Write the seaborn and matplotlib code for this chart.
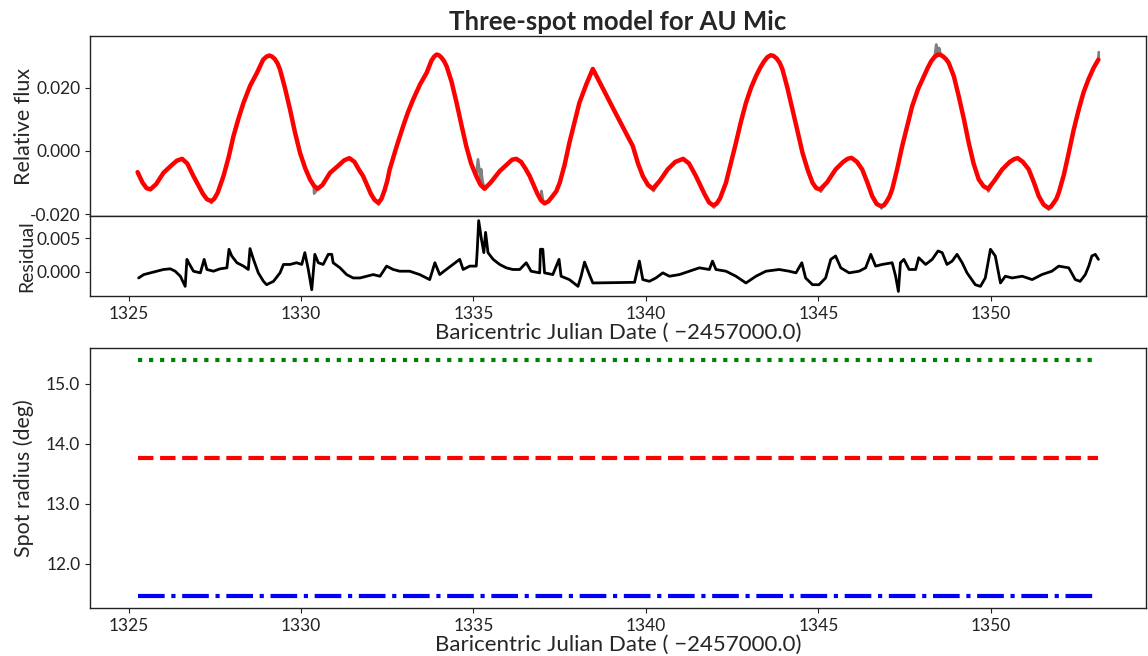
import numpy as np
import pandas as pd
import matplotlib
matplotlib.use("Agg")
import matplotlib.pyplot as plt
import seaborn as sns

# ---------------- data ----------------
model_time = [
    1325.26, 1325.40, 1325.52, 1325.63, 1325.80, 1326.01, 1326.25, 1326.40, 1326.55, 1326.70,
    1326.88, 1327.05, 1327.15, 1327.27, 1327.39, 1327.48, 1327.58, 1327.75, 1327.90, 1328.04,
    1328.18, 1328.33, 1328.52, 1328.72, 1328.90, 1329.00, 1329.08, 1329.16, 1329.24, 1329.32,
    1329.39, 1329.53, 1329.68, 1329.82, 1329.97, 1330.12, 1330.26, 1330.37, 1330.48, 1330.62,
    1330.84, 1331.10, 1331.25, 1331.40, 1331.55, 1331.68, 1331.80, 1332.02, 1332.13, 1332.24,
    1332.33, 1332.42, 1332.50, 1332.57, 1332.76, 1332.96, 1333.10, 1333.25, 1333.45, 1333.64,
    1333.78, 1333.86, 1333.93, 1334.00, 1334.07, 1334.15, 1334.22, 1334.36, 1334.51, 1334.65,
    1334.79, 1334.93, 1335.08, 1335.20, 1335.32, 1335.50, 1335.76, 1336.00, 1336.12, 1336.24,
    1336.38, 1336.50, 1336.63, 1336.85, 1336.96, 1337.06, 1337.17, 1337.28, 1337.40, 1337.50,
    1337.64, 1337.78, 1337.93, 1338.07, 1338.27, 1338.46, 1339.09, 1339.62, 1339.77, 1339.91,
    1340.06, 1340.20, 1340.40, 1340.63, 1340.85, 1341.08, 1341.25, 1341.45, 1341.58, 1341.70,
    1341.83, 1341.95, 1342.05, 1342.15, 1342.32, 1342.46, 1342.61, 1342.75, 1342.90, 1343.05,
    1343.19, 1343.31, 1343.42, 1343.52, 1343.62, 1343.70, 1343.79, 1343.88, 1343.96, 1344.10,
    1344.25, 1344.40, 1344.54, 1344.69, 1344.83, 1344.94, 1345.05, 1345.25, 1345.50, 1345.72,
    1345.85, 1345.96, 1346.12, 1346.27, 1346.42, 1346.56, 1346.69, 1346.81, 1346.90, 1346.98,
    1347.06, 1347.14, 1347.28, 1347.43, 1347.58, 1347.72, 1347.89, 1348.06, 1348.17, 1348.27,
    1348.37, 1348.47, 1348.55, 1348.62, 1348.70, 1348.78, 1348.93, 1349.07, 1349.22, 1349.36,
    1349.50, 1349.65, 1349.79, 1349.92, 1350.10, 1350.33, 1350.55, 1350.68, 1350.78, 1350.93,
    1351.10, 1351.25, 1351.39, 1351.53, 1351.66, 1351.74, 1351.82, 1351.90, 1351.97, 1352.12,
    1352.26, 1352.40, 1352.55, 1352.69, 1352.83, 1352.98, 1353.12]
model_flux = [
    -0.00673, -0.01000, -0.01180, -0.01219, -0.01050, -0.00695, -0.00450, -0.00310, -0.00253, -0.00400,
    -0.00799, -0.01150, -0.01350, -0.01530, -0.01588, -0.01520, -0.01330, -0.00799, -0.00200, 0.00464,
    0.01000, 0.01516, 0.02050, 0.02463, 0.02880, 0.02980, 0.03012, 0.02980, 0.02900, 0.02760,
    0.02570, 0.02000, 0.01307, 0.00600, -0.00063, -0.00550, -0.00903, -0.01100, -0.01200, -0.01080,
    -0.00695, -0.00450, -0.00300, -0.00231, -0.00350, -0.00600, -0.00799, -0.01350, -0.01550, -0.01642,
    -0.01520, -0.01250, -0.00950, -0.00587, 0.00100, 0.00780, 0.01220, 0.01623, 0.02100, 0.02463,
    0.02850, 0.02980, 0.03044, 0.03020, 0.02950, 0.02830, 0.02674, 0.02200, 0.01516, 0.00820,
    0.00148, -0.00400, -0.00799, -0.01070, -0.01200, -0.01000, -0.00641, -0.00400, -0.00280, -0.00253,
    -0.00350, -0.00550, -0.00799, -0.01350, -0.01570, -0.01661, -0.01600, -0.01450, -0.01280, -0.01010,
    -0.00450, 0.00253, 0.00900, 0.01516, 0.02100, 0.02589, 0.01254, 0.00148, -0.00400, -0.00799,
    -0.01080, -0.01200, -0.00950, -0.00587, -0.00350, -0.00253, -0.00400, -0.00799, -0.01100, -0.01370,
    -0.01630, -0.01724, -0.01670, -0.01500, -0.01010, -0.00400, 0.00253, 0.00900, 0.01516, 0.02000,
    0.02359, 0.02620, 0.02820, 0.02960, 0.03022, 0.03000, 0.02920, 0.02780, 0.02570, 0.02000,
    0.01307, 0.00600, -0.00063, -0.00600, -0.01010, -0.01180, -0.01219, -0.01000, -0.00587, -0.00350,
    -0.00250, -0.00221, -0.00350, -0.00587, -0.01000, -0.01430, -0.01680, -0.01746, -0.01720, -0.01600,
    -0.01450, -0.01219, -0.00600, 0.00148, 0.00800, 0.01411, 0.01950, 0.02359, 0.02620, 0.02830,
    0.02970, 0.03044, 0.03030, 0.02980, 0.02900, 0.02779, 0.02350, 0.01727, 0.01000, 0.00253,
    -0.00400, -0.00903, -0.01120, -0.01200, -0.00950, -0.00587, -0.00350, -0.00260, -0.00231, -0.00350,
    -0.00587, -0.01000, -0.01430, -0.01700, -0.01800, -0.01770, -0.01650, -0.01520, -0.01326, -0.00750,
    -0.00063, 0.00650, 0.01307, 0.01850, 0.02255, 0.02620, 0.02886]

# observed points where the grey light curve departs visibly from the model
obs_extra_time = [1327.40, 1330.38, 1332.25, 1335.13, 1335.18, 1335.22, 1335.26, 1336.97, 1337.02,
                  1340.22, 1341.97, 1345.07, 1346.83, 1348.42, 1348.50, 1349.93, 1351.68, 1353.13]
obs_extra_flux = [-0.01650, -0.01350, -0.01700, -0.00270, -0.00700, -0.00580, -0.00950, -0.01270, -0.01600,
                  -0.01270, -0.01790, -0.01290, -0.01820, 0.03360, 0.03250, -0.01280, -0.01860, 0.03120]

resid_time = [1325.29, 1325.44, 1325.63, 1325.82, 1326.01, 1326.21, 1326.35, 1326.50, 1326.64, 1326.69,
              1326.74, 1326.88, 1327.08, 1327.19, 1327.27, 1327.46, 1327.65, 1327.85, 1327.91, 1327.99,
              1328.14, 1328.33, 1328.47, 1328.52, 1328.62, 1328.76, 1328.91, 1329.00, 1329.20, 1329.39,
              1329.49, 1329.68, 1329.87, 1330.02, 1330.11, 1330.21, 1330.31, 1330.40, 1330.50, 1330.64,
              1330.79, 1330.89, 1330.93, 1331.13, 1331.32, 1331.51, 1331.71, 1331.90, 1332.09, 1332.29,
              1332.48, 1332.67, 1332.86,
              1333.15, 1333.44, 1333.73, 1333.88, 1334.02, 1334.21, 1334.60, 1334.70, 1334.89, 1335.08,
              1335.11, 1335.15, 1335.23, 1335.30, 1335.35, 1335.42, 1335.57, 1335.76, 1335.95, 1336.14,
              1336.34, 1336.53, 1336.67, 1336.92, 1336.94, 1337.01, 1337.06, 1337.30, 1337.48, 1337.54,
              1337.78, 1338.03, 1338.12, 1338.22, 1338.36, 1338.46, 1339.67, 1339.81, 1339.91, 1340.10,
              1340.29, 1340.49, 1340.68, 1340.97, 1341.26, 1341.55, 1341.84, 1341.93, 1342.03, 1342.32,
              1342.61, 1342.90, 1343.19, 1343.48, 1343.86,
              1344.15, 1344.35, 1344.52, 1344.63, 1344.83, 1345.02, 1345.21, 1345.36, 1345.50, 1345.65,
              1345.89, 1346.18, 1346.37, 1346.52, 1346.66, 1346.85, 1347.14, 1347.24, 1347.32, 1347.38,
              1347.48, 1347.63, 1347.82, 1347.91, 1348.11, 1348.30, 1348.47, 1348.59, 1348.73, 1348.88,
              1349.02, 1349.17, 1349.31, 1349.55, 1349.70, 1349.84, 1349.99, 1350.13, 1350.28, 1350.42,
              1350.62, 1350.91, 1351.20, 1351.48, 1351.77, 1351.97, 1352.26, 1352.45, 1352.59, 1352.74,
              1352.84, 1352.93, 1353.03, 1353.12]
resid_value = [-0.00097, -0.00046, -0.00020, 0.00005, 0.00031, 0.00041, 0.00005, -0.00071, -0.00224, 0.00184,
               0.00133, 0.00005, -0.00020, 0.00184, 0.00031, 0.00005, 0.00041, 0.00056, 0.00337, 0.00235,
               0.00133, 0.00082, 0.00031, 0.00347, 0.00184, -0.00020, -0.00148, -0.00199, -0.00148, -0.00020,
               0.00107, 0.00107, 0.00133, 0.00107, 0.00286, 0.00031, -0.00275, 0.00260, 0.00133, 0.00107,
               0.00260, 0.00260, 0.00133, 0.00056, -0.00046, -0.00097, -0.00097, -0.00071, -0.00046, -0.00071,
               0.00082, 0.00031, 0.00005,
               0.00005, -0.00046, -0.00122, 0.00133, -0.00046, 0.00031, 0.00184, 0.00031, 0.00082, 0.00082,
               0.00337, 0.00770, 0.00490, 0.00286, 0.00592, 0.00286, 0.00184, 0.00107, 0.00056, 0.00031,
               0.00031, 0.00133, 0.00005, -0.00020, 0.00337, 0.00337, -0.00020, -0.00046, 0.00184, -0.00071,
               -0.00122, -0.00224, -0.00071, 0.00143, -0.00046, -0.00173, -0.00163, 0.00158, -0.00122, -0.00148,
               -0.00097, -0.00020, -0.00071, -0.00046, 0.00005, 0.00056, 0.00031, 0.00158, 0.00031, 0.00005,
               -0.00071, -0.00173, -0.00071, 0.00005, 0.00031,
               0.00005, -0.00020, 0.00133, -0.00097, -0.00199, -0.00199, -0.00097, 0.00184, 0.00235, 0.00056,
               -0.00020, 0.00005, 0.00056, 0.00260, 0.00082, 0.00107, 0.00133, -0.00071, -0.00301, 0.00133,
               0.00184, 0.00031, 0.00031, 0.00209, 0.00107, 0.00184, 0.00311, 0.00286, 0.00107, 0.00158,
               0.00260, 0.00133, -0.00020, -0.00199, -0.00224, -0.00097, 0.00337, 0.00235, -0.00173, -0.00071,
               -0.00097, -0.00071, -0.00122, -0.00046, 0.00005, 0.00082, 0.00056, -0.00122, -0.00148, -0.00046,
               0.00082, 0.00235, 0.00260, 0.00184]

spot_names = ["spot 1", "spot 2", "spot 3"]
spot_radius = [15.405, 13.767, 11.455]
spot_colors = ["green", "red", "blue"]
spot_styles = [":", "--", "-."]

title = "Three-spot model for AU Mic"
xlabel = "Baricentric Julian Date ( \u22122457000.0)"
flux_ticks = [-0.020, 0.000, 0.020]
resid_ticks = [0.000, 0.005]
radius_ticks = [12.0, 13.0, 14.0, 15.0]
time_ticks = [1325, 1330, 1335, 1340, 1345, 1350]

# ---------------- style ----------------
sns.set_style("ticks")
plt.rcParams["font.family"] = ["Lato", "DejaVu Sans"]
plt.rcParams["axes.unicode_minus"] = False
plt.rcParams["axes.edgecolor"] = "#222222"
plt.rcParams["axes.linewidth"] = 1.0
plt.rcParams["xtick.color"] = "#222222"
plt.rcParams["ytick.color"] = "#222222"
plt.rcParams["xtick.major.size"] = 3.5
plt.rcParams["ytick.major.size"] = 3.5

fig = plt.figure(figsize=(11.48, 6.56), dpi=100)
W, H = 1148, 656
def box(l, t, r, b):
    return [l / W, (H - b) / H, (r - l) / W, (b - t) / H]

ax1 = fig.add_axes(box(90, 36, 1146, 216))
ax2 = fig.add_axes(box(90, 216, 1146, 296), sharex=ax1)
ax3 = fig.add_axes(box(90, 348, 1146, 608))

mod_df = pd.DataFrame({"time": model_time, "flux": model_flux})
obs_df = (pd.concat([mod_df, pd.DataFrame({"time": obs_extra_time, "flux": obs_extra_flux})])
          .sort_values("time", kind="mergesort").reset_index(drop=True))
res_df = pd.DataFrame({"time": resid_time, "resid": resid_value})

sns.lineplot(data=obs_df, x="time", y="flux", ax=ax1, color="gray", lw=2.0,
             estimator=None, sort=False)
sns.lineplot(data=mod_df, x="time", y="flux", ax=ax1, color="red", lw=3.2,
             estimator=None, sort=False)
sns.lineplot(data=res_df, x="time", y="resid", ax=ax2, color="black", lw=2.0,
             estimator=None, sort=False)

t0, t1 = min(model_time), max(model_time)
for name, r, c, ls in zip(spot_names, spot_radius, spot_colors, spot_styles):
    df = pd.DataFrame({"time": [t0, t1], "radius": [r, r]})
    sns.lineplot(data=df, x="time", y="radius", ax=ax3, color=c, lw=3,
                 linestyle=ls, estimator=None, sort=False)

lab_fs = 15.5
ax1.set_yticks(flux_ticks)
ax1.set_yticklabels([f"{v:.3f}" for v in flux_ticks])
ax1.set_ylim(-0.0206, 0.0363)
ax1.set_ylabel("Relative flux", fontsize=lab_fs)
ax1.yaxis.set_label_coords(-0.053, 0.5)
ax1.set_xlabel("")
ax1.tick_params(axis="x", labelbottom=False)
ax1.set_title(title, fontsize=18.5, fontweight="bold", pad=4)

ax2.set_yticks(resid_ticks)
ax2.set_yticklabels([f"{v:.3f}" for v in resid_ticks])
ax2.set_ylim(-0.0037, 0.0084)
ax2.set_ylabel("Residual", fontsize=14)
ax2.yaxis.set_label_coords(-0.052, 0.5)
ax2.set_xlabel(xlabel, fontsize=16, labelpad=1)
ax2.set_xticks(time_ticks)
ax2.set_xlim(1323.88, 1354.50)

ax3.set_xticks(time_ticks)
ax3.set_xlim(1323.88, 1354.50)
ax3.set_yticks(radius_ticks)
ax3.set_yticklabels([f"{v:.1f}" for v in radius_ticks])
ax3.set_ylim(11.26, 15.60)
ax3.set_ylabel("Spot radius (deg)", fontsize=lab_fs)
ax3.yaxis.set_label_coords(-0.053, 0.5)
ax3.set_xlabel(xlabel, fontsize=16, labelpad=1)

for ax in (ax1, ax2, ax3):
    ax.tick_params(labelsize=12.5, direction="out", width=0.8)
    for s in ax.spines.values():
        s.set_visible(True)

fig.savefig("out.png", dpi=100)
